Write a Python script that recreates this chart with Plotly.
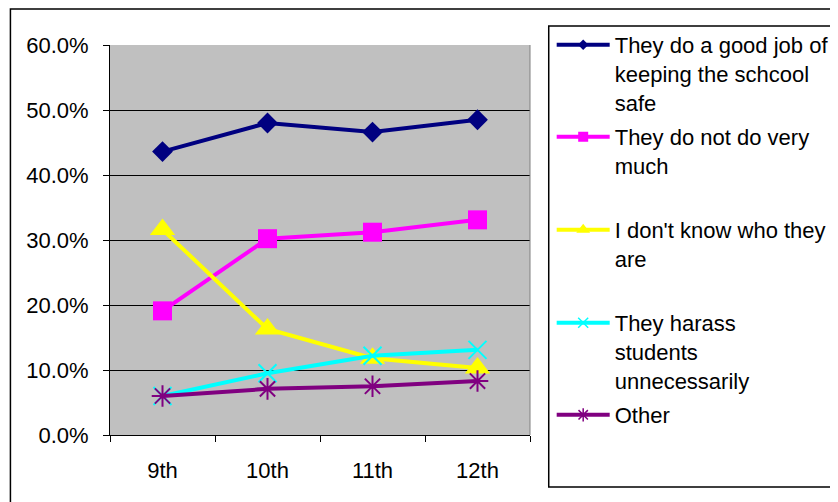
import plotly.graph_objects as go

grades = ["9th", "10th", "11th", "12th"]
good_job = [0.436, 0.480, 0.466, 0.485]
not_much = [0.191, 0.302, 0.312, 0.331]
dont_know = [0.316, 0.163, 0.118, 0.103]
harass = [0.060, 0.095, 0.122, 0.131]
other = [0.060, 0.071, 0.075, 0.083]

names = [
    "They do a good job of<br>keeping the schcool<br>safe",
    "They do not do very<br>much",
    "I don't know who they<br>are",
    "They harass<br>students<br>unnecessarily",
    "Other",
]
colors = ["#000080", "#FF00FF", "#FFFF00", "#00FFFF", "#800080"]
symbols = ["diamond", "square", "triangle-up", "x-thin-open", "asterisk-open"]
sizes = [16, 19, 22, 18, 18]
legend_sizes = [8, 10, 12, 10, 11]
series = [good_job, not_much, dont_know, harass, other]
# page y (px) of the first text line of each legend entry
legend_rows = [45, 137, 230, 323, 415]

FONT = "Liberation Sans, Arial, sans-serif"
FS = 22
OFF = 8  # page offset of the figure (body margin)

# plot area in page pixels
PL, PR, PT, PB = 110, 536, 45, 435
PW, PH = PR - PL, PB - PT


def px(x):
    return (x - PL) / PW


def py(y):
    return (PB - y) / PH


fig = go.Figure()
legend_layouts = {}
for i, (vals, name, col, sym, sz, lsz, row) in enumerate(
        zip(series, names, colors, symbols, sizes, legend_sizes, legend_rows)):
    thin = sym.endswith("-open")
    lname = "legend" if i == 0 else f"legend{i + 1}"
    fig.add_trace(go.Scatter(
        x=grades, y=vals, name=name, mode="lines+markers",
        showlegend=False,
        line=dict(color=col, width=4),
        marker=dict(symbol=sym, size=sz, color=col,
                    line=dict(color=col, width=2 if thin else 0)),
    ))
    # legend entry (smaller symbol, as in the original legend)
    fig.add_trace(go.Scatter(
        x=[None], y=[None], name=name, mode="lines+markers",
        legend=lname, showlegend=True, hoverinfo="skip",
        line=dict(color=col, width=4),
        marker=dict(symbol=sym, size=lsz, color=col,
                    line=dict(color=col, width=1.5 if thin else 0)),
    ))
    legend_layouts[lname] = dict(
        x=px(558), y=py(row - 21), xanchor="left", yanchor="top",
        valign="top", itemwidth=53,
        bgcolor="rgba(0,0,0,0)", borderwidth=0,
        font=dict(family=FONT, size=FS, color="black"),
        itemclick=False, itemdoubleclick=False,
    )

fig.update_layout(
    width=838, height=502,
    margin=dict(l=PL - OFF, r=838 - (PR - OFF), t=PT - OFF, b=502 - (PB - OFF), pad=0),
    paper_bgcolor="white", plot_bgcolor="#C0C0C0",
    font=dict(family=FONT, size=FS, color="black"),
    showlegend=True,
    xaxis=dict(
        type="category", range=[-0.5, 3.5], tickson="boundaries",
        ticks="outside", ticklen=6, tickcolor="black", tickwidth=1,
        showgrid=False, showline=True, linecolor="black", linewidth=1,
        ticklabelstandoff=16, zeroline=False,
        tickfont=dict(family=FONT, size=FS, color="black"),
    ),
    yaxis=dict(
        range=[0, 0.6], dtick=0.1, tickformat=".1%",
        ticks="outside", ticklen=6, tickcolor="black", tickwidth=1,
        showgrid=True, gridcolor="black", gridwidth=1,
        showline=True, linecolor="black", linewidth=1,
        zeroline=False, ticklabelstandoff=10,
        tickfont=dict(family=FONT, size=FS, color="black"),
    ),
    shapes=[
        dict(type="line", xref="paper", yref="paper", x0=1, x1=1, y0=0, y1=1,
             line=dict(color="#808080", width=1)),
        dict(type="rect", xref="paper", yref="paper",
             x0=px(555), x1=px(860), y0=py(487), y1=py(26),
             line=dict(color="black", width=1.5), fillcolor="rgba(0,0,0,0)"),
        dict(type="rect", xref="paper", yref="paper",
             x0=px(9), x1=px(900), y0=py(600), y1=py(9),
             line=dict(color="black", width=1.5), fillcolor="rgba(0,0,0,0)"),
    ],
    **legend_layouts,
)

fig.write_html("out.html")
